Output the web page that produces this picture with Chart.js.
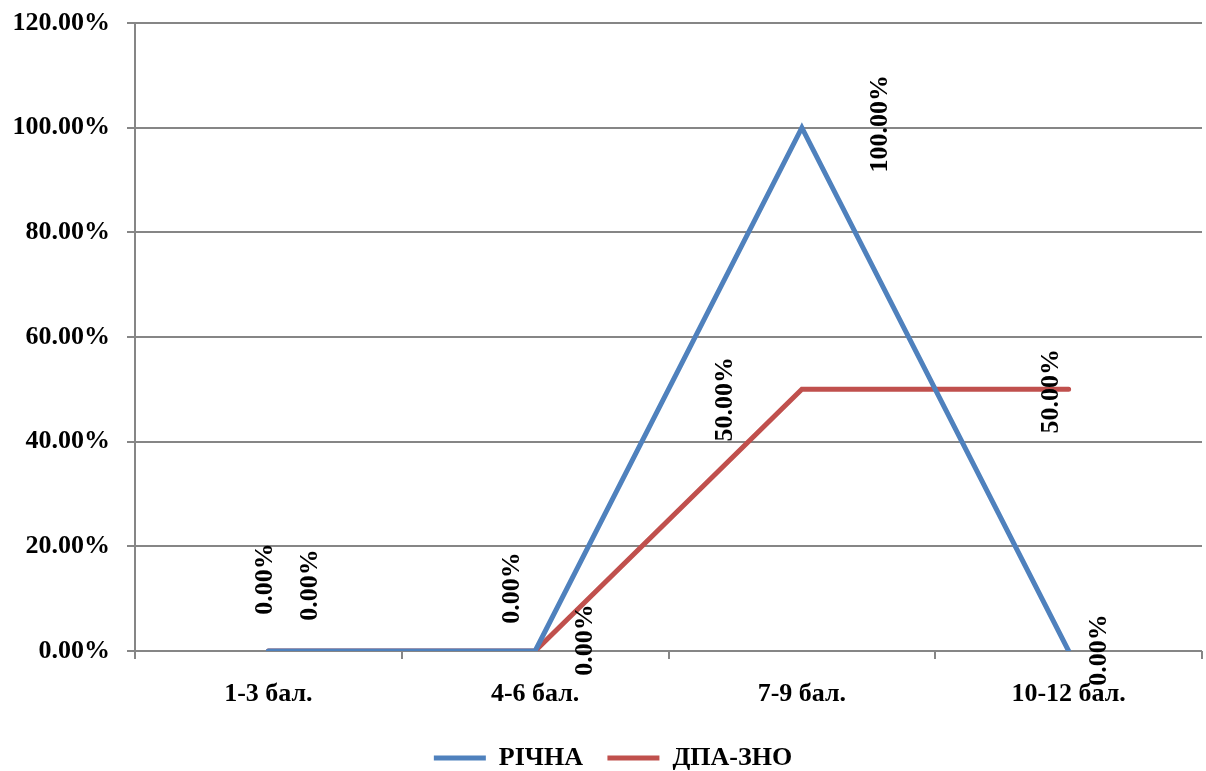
<!doctype html>
<html>
<head>
	<meta charset="utf-8">
	<style>
		html, body { margin: 0; padding: 0; background: #fff; }
		#wrap { width: 1206px; height: 771px; }
	</style>
	<script src="https://cdn.jsdelivr.net/npm/chart.js@4.4.0/dist/chart.umd.min.js"></script>
</head>
<body>
	<div id="wrap"><canvas id="chart" width="1206" height="771"></canvas></div>
	<script>
		"use strict";
		const categories = ["1-3 бал.", "4-6 бал.", "7-9 бал.", "10-12 бал."];
		const richna = [0, 0, 100, 0];
		const dpa_zno = [0, 0, 50, 50];
		const series_names = ["РІЧНА", "ДПА-ЗНО"];
		const y_ticks = [0, 20, 40, 60, 80, 100, 120];

		// label offsets (rotated text centre, relative to the point)
		const label_shift = [
			[[-3, -72], [-23, -63], [78, -4], [31, -1]],
			[[42, -66], [50, -11], [-77, 10], [-17, 2]]
		];

		const FONT = "'Liberation Serif', 'Times New Roman', serif";
		const GRID = "#868686";

		const point_labels = {
			id: "point_labels",
			afterLayout(chart) {
				// nudge the legend a bit to the right, like the original
				chart.legend.left += 24;
			},
			afterDatasetsDraw(chart) {
				const ctx = chart.ctx;
				ctx.save();
				ctx.font = "bold 26px " + FONT;
				ctx.fillStyle = "#000";
				ctx.textAlign = "center";
				ctx.textBaseline = "middle";
				chart.data.datasets.forEach((ds, di) => {
					chart.getDatasetMeta(di).data.forEach((pt, i) => {
						const [dx, dy] = label_shift[di][i];
						ctx.save();
						ctx.translate(pt.x + dx, pt.y + dy);
						ctx.rotate(-Math.PI / 2);
						ctx.fillText(ds.data[i].toFixed(2) + "%", 0, 0);
						ctx.restore();
					});
				});
				ctx.restore();
			}
		};

		new Chart(document.getElementById("chart"), {
			type: "line",
			data: {
				labels: categories,
				datasets: [{
					label: series_names[0],
					data: richna,
					borderColor: "#4F81BD",
					backgroundColor: "#4F81BD",
					borderWidth: 5,
					borderCapStyle: "round",
					pointRadius: 0,
					tension: 0
				}, {
					label: series_names[1],
					data: dpa_zno,
					borderColor: "#C0504D",
					backgroundColor: "#C0504D",
					borderWidth: 5,
					borderCapStyle: "round",
					pointRadius: 0,
					tension: 0
				}]
			},
			options: {
				responsive: false,
				animation: false,
				layout: { padding: { top: 23, right: 4, left: 0, bottom: -10 } },
				scales: {
					x: {
						offset: true,
						grid: {
							offset: true,
							drawOnChartArea: false,
							color: GRID,
							lineWidth: 2,
							tickLength: 8
						},
						border: { display: false },
						ticks: {
							color: "#000",
							padding: 20,
							maxRotation: 0,
							font: { family: FONT, size: 26, weight: "bold" }
						},
						afterFit(scale) { scale.height = 89; }
					},
					y: {
						min: 0,
						max: 120,
						afterBuildTicks(scale) { scale.ticks = y_ticks.map(v => ({ value: v })); },
						grid: { color: GRID, lineWidth: 2, tickLength: 8 },
						border: { color: GRID, width: 2 },
						ticks: {
							color: "#000",
							padding: 17,
							font: { family: FONT, size: 26, weight: "bold" },
							callback: v => v.toFixed(2) + "%"
						},
						afterFit(scale) {
							scale.width = 135;
							scale.paddingTop = 0;
							scale.paddingBottom = 0;
						}
					}
				},
				plugins: {
					legend: {
						position: "bottom",
						labels: {
							usePointStyle: true,
							pointStyle: "line",
							pointStyleWidth: 52,
							boxHeight: 26,
							padding: 5,
							color: "#000",
							font: { family: FONT, size: 26, weight: "bold" },
							generateLabels(chart) {
								const items = Chart.defaults.plugins.legend.labels.generateLabels(chart);
								items[0].text += "   ";
								return items;
							}
						}
					},
					tooltip: { enabled: false }
				}
			},
			plugins: [point_labels]
		});
	</script>
</body>
</html>
